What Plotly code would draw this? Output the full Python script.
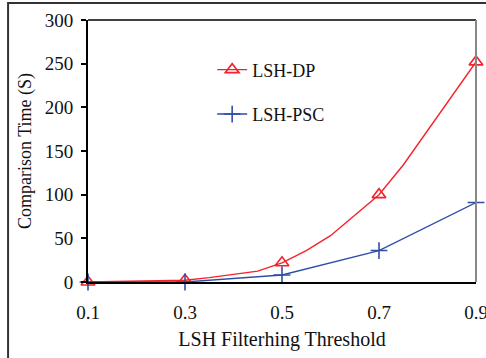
import plotly.graph_objects as go

# Data
thresholds = [0.1, 0.3, 0.5, 0.7, 0.9]
dp_values = [0, 2, 22, 100, 252]
psc_values = [0, 0, 8, 36, 91]
dp_curve_x = [0.1, 0.3, 0.35, 0.4, 0.45, 0.5, 0.55, 0.6, 0.65, 0.7, 0.75, 0.8, 0.85, 0.9]
dp_curve_y = [0, 2, 5, 8.5, 12.5, 22, 36, 53, 76, 100, 134, 173, 213, 252]
x_ticks = [0.1, 0.3, 0.5, 0.7, 0.9]
y_ticks = [0, 50, 100, 150, 200, 250, 300]

RED = "#F5222A"
BLUE = "#2E4EA6"
FONT = "Liberation Serif"

fig = go.Figure()
# red smooth curve
fig.add_trace(go.Scatter(x=dp_curve_x, y=dp_curve_y, mode="lines",
                         line=dict(color=RED, width=1.4), showlegend=False,
                         cliponaxis=False, hoverinfo="skip"))
fig.add_trace(go.Scatter(x=thresholds, y=dp_values, mode="markers",
                         marker=dict(symbol="triangle-up-open", size=12, color=RED,
                                     line=dict(width=1.6, color=RED)),
                         showlegend=False, cliponaxis=False))
fig.add_trace(go.Scatter(x=thresholds, y=psc_values, mode="lines+markers",
                         line=dict(color=BLUE, width=1.4),
                         marker=dict(symbol="cross-thin-open", size=12, color=BLUE,
                                     line=dict(width=1.6, color=BLUE)),
                         showlegend=False, cliponaxis=False))
# legend entries
fig.add_trace(go.Scatter(x=[None], y=[None], mode="lines+markers", name="LSH-DP",
                         line=dict(color=RED, width=1.4),
                         marker=dict(symbol="triangle-up-open", size=12, color=RED,
                                     line=dict(width=1.6, color=RED)),
                         legendgroup="a"))
fig.add_trace(go.Scatter(x=[None], y=[None], mode="lines+markers", name="LSH-PSC",
                         line=dict(color=BLUE, width=1.4),
                         marker=dict(symbol="cross-thin-open", size=12, color=BLUE,
                                     line=dict(width=1.6, color=BLUE)),
                         legendgroup="b"))

fig.update_layout(
    width=486, height=358,
    margin=dict(l=88, r=10, t=20, b=76, autoexpand=False),
    paper_bgcolor="white", plot_bgcolor="white",
    font=dict(family=FONT, size=19, color="#111"),
    legend=dict(x=0.32, y=0.88, xanchor="left", yanchor="top",
                bgcolor="rgba(0,0,0,0)", tracegroupgap=18,
                font=dict(family=FONT, size=18)),
    xaxis=dict(range=[0.1, 0.9], tickvals=x_ticks, ticktext=[str(v) for v in x_ticks],
               showgrid=False, zeroline=False, showline=True, linecolor="black",
               linewidth=2, ticks="", ticklabelstandoff=12, ticklabeloverflow="allow",
               automargin=False,
               tickfont=dict(family=FONT, size=19),
               title=dict(text="LSH Filterhing Threshold", standoff=10,
                          font=dict(family=FONT, size=20))),
    yaxis=dict(range=[0, 300], tickvals=y_ticks, showgrid=False, zeroline=False,
               showline=True, linecolor="black", linewidth=2, ticks="outside",
               ticklen=5, tickcolor="black", tickwidth=1.5, ticklabelstandoff=4,
               automargin=False,
               tickfont=dict(family=FONT, size=19),
               title=dict(text="Comparison Time (S)", standoff=8,
                          font=dict(family=FONT, size=18))),
    shapes=[
        # top border of plot (black)
        dict(type="line", xref="paper", yref="paper", x0=0, x1=1, y0=1, y1=1,
             line=dict(color="black", width=1.5)),
        # right border of plot (gray)
        dict(type="line", xref="paper", yref="paper", x0=1, x1=1, y0=0, y1=1,
             line=dict(color="#888888", width=2)),
        # outer figure frame
        dict(type="rect", xref="paper", yref="paper", x0=-0.206, x1=1.2,
             y0=-0.5, y1=1.065, line=dict(color="#333333", width=2)),
    ],
)

fig.write_html("out.html", config={"displayModeBar": False},
               post_script="document.body.style.margin='0px';")
